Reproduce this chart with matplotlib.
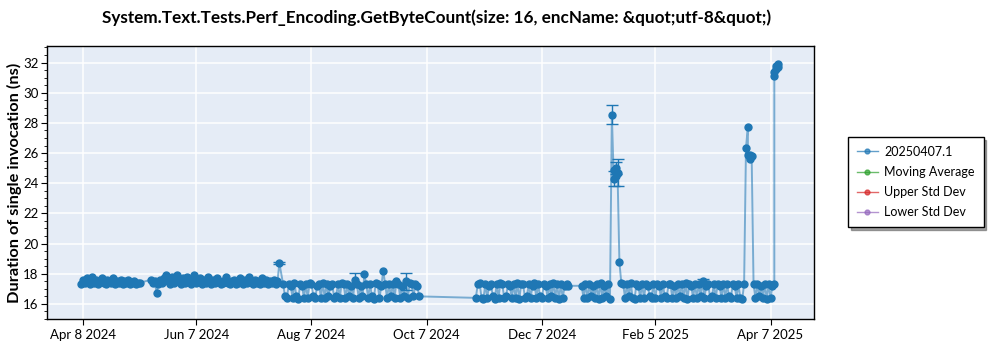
import numpy as np
import pandas as pd
import matplotlib
matplotlib.use("Agg")
import matplotlib.pyplot as plt
from matplotlib.lines import Line2D
from matplotlib.ticker import MultipleLocator

# daily runs: (start date, values one per day)
seg1_start = "2024-04-07"
seg1_vals = [17.3, 17.6, 17.4, 17.7, 17.5, 17.3, 17.8, 17.4, 17.6, 17.3,
             17.5, 17.7, 17.4, 17.3, 17.6, 17.5, 17.4, 17.7, 17.3, 17.5,
             17.4, 17.6, 17.3, 17.5, 17.4, 17.6, 17.3, 17.4, 17.5, 17.3,
             17.4, 17.4]

seg2_start = "2024-05-14"
seg2_vals = [17.6, 17.4, 17.5, 16.75, 17.3, 17.6, 17.4, 17.7, 17.9, 17.5,
             17.3, 17.8, 17.4, 17.6, 17.9, 17.5, 17.3, 17.7, 17.4, 17.8,
             17.5, 17.3, 17.6, 17.9, 17.4, 17.5, 17.7, 17.3, 17.6, 17.4,
             17.8, 17.5, 17.3, 17.6, 17.4, 17.7, 17.5, 17.3, 17.4, 17.6,
             17.8, 17.4, 17.3, 17.5, 17.6, 17.3, 17.4, 17.7, 17.5, 17.3,
             17.6, 17.4, 17.8, 17.5, 17.3, 17.6, 17.4, 17.5, 17.3, 17.7,
             17.4, 17.6, 17.3, 17.5, 17.4, 17.6, 17.3, 17.5]

seg3_start = "2024-07-23"
seg3_vals = [17.3, 16.5, 16.4, 17.3, 17.2, 16.4, 17.4, 16.5, 16.3, 17.3,
             17.2, 16.4, 17.3, 16.4, 17.4, 17.3, 16.5, 16.4, 17.2, 17.3,
             16.4, 17.4, 16.4, 17.3, 16.5, 17.2, 17.3, 16.4, 16.5, 17.3,
             16.4, 17.4, 17.3, 16.4, 17.3, 16.5, 17.2, 16.4, 17.6, 17.3,
             16.4, 17.2, 16.5, 17.95, 17.3, 16.4, 17.3, 16.5, 16.3, 17.4,
             17.3, 16.4, 17.2, 18.2, 17.3, 16.4, 17.3, 16.5, 17.3, 16.4,
             17.5, 17.3, 16.4, 17.2, 16.5, 17.5, 16.4, 17.4, 17.3, 16.5,
             17.3, 17.2, 16.5]

seg4_start = "2024-11-02"
seg4_vals = [16.4, 17.3, 17.4, 16.4, 16.3, 17.3, 16.4, 17.2, 17.3, 16.5,
             16.3, 17.3, 16.4, 17.4, 17.3, 16.4, 16.5, 17.3, 17.2, 16.4,
             17.3, 16.4, 17.4, 16.3, 17.3, 17.3, 16.4, 16.5, 17.3, 16.4,
             17.2, 17.4, 16.4, 17.3, 16.5, 16.4, 17.3, 17.2, 16.4, 17.3,
             16.5, 17.4, 16.4, 17.3, 16.3, 17.3, 16.4, 17.2, 17.3, 17.2]

seg5_start = "2024-12-28"
seg5_vals = [17.2, 16.4, 17.3, 16.4, 17.3, 16.5, 17.2, 16.4, 17.3, 16.3,
             17.4, 16.4, 17.2, 16.5, 17.3, 16.3]

seg6_start = "2025-01-18"
seg6_vals = [17.4, 17.3, 16.4, 17.3, 16.5, 17.4, 16.4, 16.3, 17.3, 17.2,
             16.4, 17.3, 16.4, 17.3, 17.2, 16.5, 16.4, 17.3, 16.4, 17.3,
             17.2, 16.4, 17.3, 16.5, 16.4, 17.3, 17.3, 16.4, 17.2, 16.4,
             17.3, 16.5, 17.3, 16.4, 17.4, 16.3, 17.3, 17.2, 16.4, 17.3,
             16.4, 17.3, 16.5, 17.55, 16.4, 17.2, 17.3, 16.4, 16.5, 17.3,
             16.4, 17.3, 17.2, 16.4, 17.3, 16.4, 17.3, 16.5, 16.4, 17.3,
             17.2, 16.4, 17.3, 16.4, 16.3, 17.3]

seg7_start = "2025-03-29"
seg7_vals = [17.3, 16.4, 17.3, 16.5, 17.2, 16.4, 17.3, 16.3, 17.3, 16.4,
             17.2, 17.3]

# irregular points (spikes), several runs per day
jul_dates = ["2024-07-21"]
jul_vals = [18.7]
jan_dates = ["2025-01-13", "2025-01-14", "2025-01-14", "2025-01-15",
             "2025-01-15", "2025-01-16", "2025-01-17"]
jan_vals = [28.55, 24.3, 24.9, 24.5, 25.0, 24.7, 18.75]
mar_dates = ["2025-03-25", "2025-03-26", "2025-03-26", "2025-03-27",
             "2025-03-27", "2025-03-28"]
mar_vals = [26.35, 27.75, 25.9, 25.6, 25.85, 25.8]
apr_dates = ["2025-04-09", "2025-04-09", "2025-04-10", "2025-04-10",
             "2025-04-11", "2025-04-11"]
apr_vals = [31.1, 31.4, 31.8, 31.6, 31.9, 31.7]

# error bars (date, value, half width)
err_dates = ["2024-07-21", "2024-08-30", "2024-09-26", "2025-01-13",
             "2025-01-14", "2025-01-15", "2025-01-16", "2025-03-02"]
err_vals = [18.7, 17.6, 17.5, 28.55, 24.3, 25.0, 24.7, 17.55]
err_half = [0.08, 0.45, 0.55, 0.62, 0.5, 0.4, 0.9, 0.12]

tick_dates = ["2024-04-08", "2024-06-07", "2024-08-07", "2024-10-07",
              "2024-12-07", "2025-02-05", "2025-04-07"]
tick_labels = ["Apr 8 2024", "Jun 7 2024", "Aug 7 2024", "Oct 7 2024",
               "Dec 7 2024", "Feb 5 2025", "Apr 7 2025"]

series_name = "20250407.1"
legend_names = [series_name, "Moving Average", "Upper Std Dev", "Lower Std Dev"]
legend_colors = ["#1f77b4", "#2ca02c", "#d62728", "#9467bd"]


def daily(start, vals):
    return pd.Series(vals, index=pd.date_range(start, periods=len(vals), freq="D"))


def points(dates, vals):
    return pd.Series(vals, index=pd.to_datetime(dates))


parts = [daily(seg1_start, seg1_vals), daily(seg2_start, seg2_vals),
         points(jul_dates, jul_vals), daily(seg3_start, seg3_vals),
         daily(seg4_start, seg4_vals), daily(seg5_start, seg5_vals),
         points(jan_dates, jan_vals), daily(seg6_start, seg6_vals),
         points(mar_dates, mar_vals), daily(seg7_start, seg7_vals),
         points(apr_dates, apr_vals)]
s = pd.concat(parts)

plt.rcParams["font.family"] = ["Lato", "DejaVu Sans"]

fig = plt.figure(figsize=(10, 3.5), dpi=100)
ax = fig.add_axes([0.047, 0.0886, 0.767, 0.78])
ax.set_facecolor("#E5ECF6")
ax.grid(True, color="white", linewidth=1.1)
ax.set_axisbelow(True)

blue = "#1f77b4"
ax.plot(s.index, s.values, color=blue, alpha=0.55, linewidth=1.4, zorder=2)
ax.plot(s.index, s.values, linestyle="none", marker="o", markersize=5,
        color=blue, zorder=3)
ax.errorbar(pd.to_datetime(err_dates), err_vals, yerr=err_half, fmt="none",
            ecolor=blue, elinewidth=1, capsize=4, capthick=1, zorder=3)

ax.set_xlim(pd.Timestamp("2024-03-20"), pd.Timestamp("2025-04-30"))
ax.set_ylim(15.0, 33.1)
ax.set_xticks(pd.to_datetime(tick_dates))
ax.set_xticklabels(tick_labels)
ax.yaxis.set_major_locator(MultipleLocator(2))
ax.yaxis.set_minor_locator(MultipleLocator(0.5))
ax.tick_params(axis="both", which="major", length=4, color="black", labelsize=9.5)
ax.tick_params(axis="y", which="major", pad=2)
ax.tick_params(axis="y", which="minor", length=2)
for sp in ax.spines.values():
    sp.set_color("black")
    sp.set_linewidth(1)

ax.set_ylabel("Duration of single invocation (ns)", fontsize=11.8, fontweight="bold")
ax.yaxis.set_label_coords(-0.033, 0.5)
fig.text(0.437, 0.949, "System.Text.Tests.Perf_Encoding.GetByteCount(size: 16, encName: &quot;utf-8&quot;)",
         ha="center", va="center", fontsize=12.3, fontweight="bold")

handles = [Line2D([0], [0], color=c, alpha=0.7, linewidth=1, marker="o",
                  markersize=3.5, markerfacecolor=c, markeredgecolor=c)
           for c in legend_colors]
leg = fig.legend(handles, legend_names, loc="center left",
                 bbox_to_anchor=(0.848, 0.48), borderaxespad=0, frameon=True,
                 fancybox=False, shadow=True, fontsize=9, handlelength=1.7,
                 handletextpad=0.5, borderpad=0.7, labelspacing=0.65)
leg.get_frame().set_edgecolor("black")
leg.get_frame().set_linewidth(1)

fig.savefig("out.png", dpi=100)
